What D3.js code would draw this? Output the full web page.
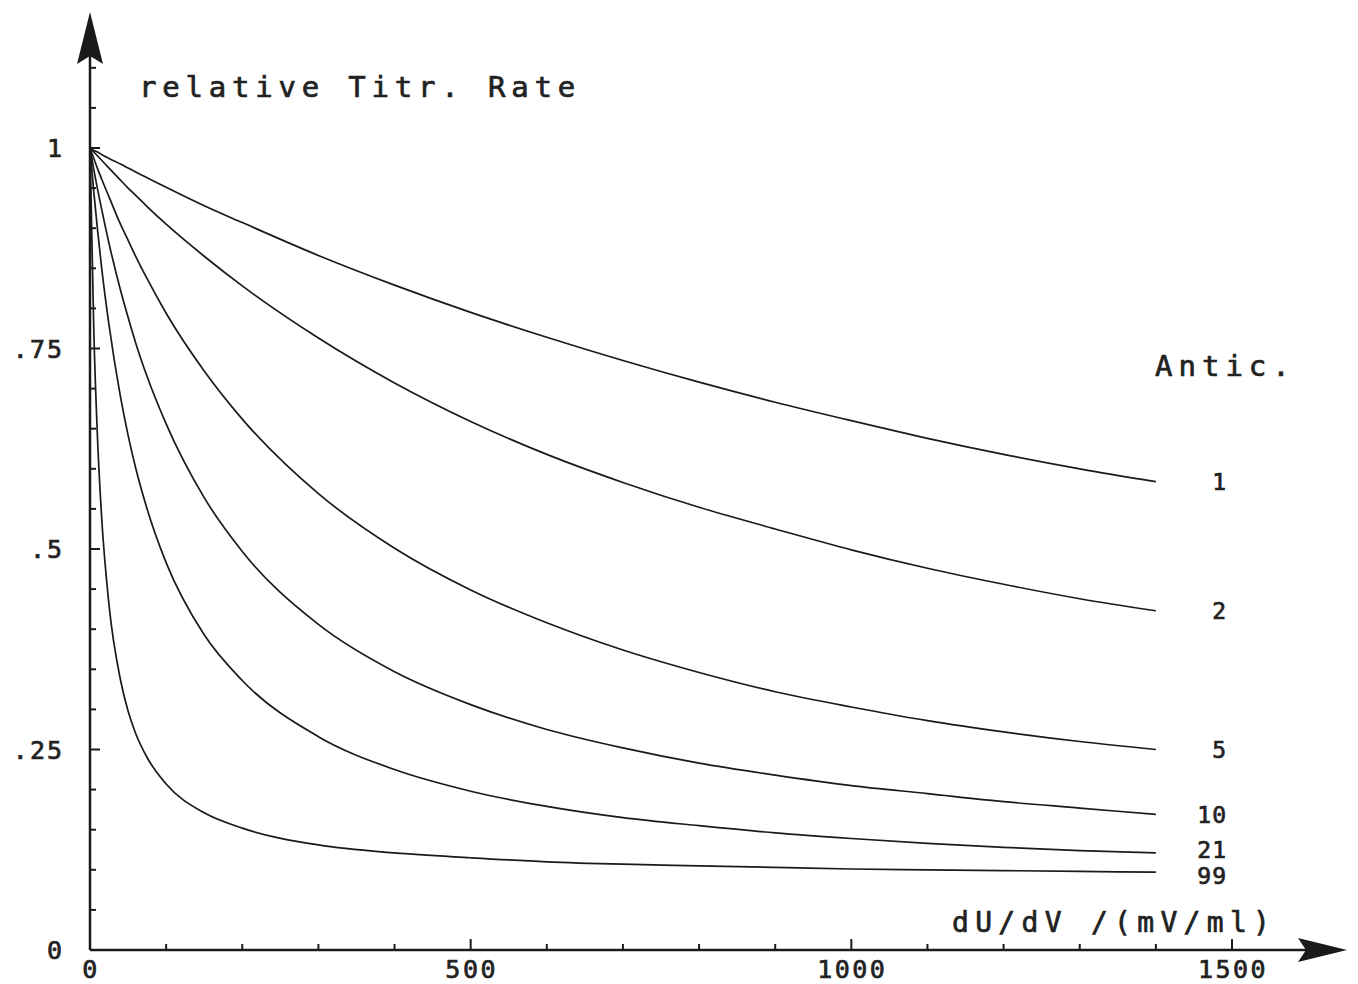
<!DOCTYPE html>
<html>
<head>
<meta charset="utf-8">
<script src="https://cdn.jsdelivr.net/npm/d3@7"></script>
<style>
  body { margin: 0; background: #fff; }
  text { font-family: "DejaVu Sans Mono", "Liberation Mono", monospace; fill: #222; stroke: #222; stroke-width: 0.7px; }
</style>
</head>
<body>
<div id="chart"></div>
<script>
// x positions (dU/dV in mV/ml) at which the curves were read
const xValues = [0, 5, 10, 15, 25, 40, 50, 60, 75, 100, 150, 200, 300, 400, 500, 600, 700, 800, 900, 1000, 1100, 1200, 1300, 1400];

// relative titration rate for each anticipation setting
const antic1  = [1, .997, .995, .992, .987, .980, .975, .970, .963, .951, .928, .907, .866, .829, .795, .764, .735, .708, .683, .660, .638, .618, .600, .584];
const antic2  = [1, .995, .990, .985, .975, .960, .950, .941, .927, .905, .865, .828, .763, .707, .659, .618, .583, .552, .525, .499, .476, .456, .438, .423];
const antic5  = [1, .987, .974, .962, .939, .905, .885, .865, .837, .794, .722, .662, .569, .501, .449, .408, .374, .346, .322, .303, .286, .272, .260, .250];
const antic10 = [1, .973, .948, .925, .881, .823, .789, .757, .715, .656, .564, .497, .406, .347, .306, .275, .252, .233, .218, .205, .195, .185, .177, .169];
const antic21 = [1, .945, .897, .853, .779, .690, .642, .601, .550, .483, .393, .336, .266, .225, .198, .179, .165, .155, .146, .139, .133, .128, .124, .121];
const antic99 = [1, .772, .635, .544, .430, .337, .298, .270, .240, .207, .171, .152, .131, .121, .115, .110, .107, .105, .103, .101, .100, .099, .098, .097];

const seriesNames = ["1", "2", "5", "10", "21", "99"];
const seriesValues = [antic1, antic2, antic5, antic10, antic21, antic99];

// axis ticks and labels
const xLabelValues = [0, 500, 1000, 1500];
const xLabelText = ["0", "500", "1000", "1500"];
const yLabelValues = [0, .25, .5, .75, 1];
const yLabelText = ["0", ".25", ".5", ".75", "1"];

const width = 1358, height = 984;

const svg = d3.select("#chart")
  .append("svg")
  .attr("width", width)
  .attr("height", height);

// scales
const x = d3.scaleLinear().domain([0, 1500]).range([90, 1232]);
const y = d3.scaleLinear().domain([0, 1]).range([950, 148]);

const ink = "#1a1a1a";

// axes lines
svg.append("line")
  .attr("x1", x(0)).attr("y1", y(0))
  .attr("x2", x(0)).attr("y2", 40)
  .attr("stroke", ink).attr("stroke-width", 2.5);
svg.append("line")
  .attr("x1", x(0)).attr("y1", y(0))
  .attr("x2", 1320).attr("y2", y(0))
  .attr("stroke", ink).attr("stroke-width", 2.5);

// arrow heads
svg.append("path")
  .attr("d", `M${x(0)},12 L${x(0) + 13},64 L${x(0)},56 L${x(0) - 13},64 Z`)
  .attr("fill", ink);
svg.append("path")
  .attr("d", `M1347,${y(0)} L1298,${y(0) - 12} L1306,${y(0)} L1298,${y(0) + 12} Z`)
  .attr("fill", ink);

// y ticks every .05, longer at quarters
const yTicks = d3.range(0, 21).map(i => i * 0.05).concat([1.05, 1.1]);
svg.append("g").selectAll("line")
  .data(yTicks)
  .enter()
  .append("line")
    .attr("x1", x(0))
    .attr("x2", d => x(0) + (Math.abs(d * 4 - Math.round(d * 4)) < 1e-6 ? 10 : 6))
    .attr("y1", d => y(d))
    .attr("y2", d => y(d))
    .attr("stroke", ink).attr("stroke-width", 2);

// x ticks every 100, longer at 500s
const xTicks = d3.range(1, 17).map(i => i * 100);
svg.append("g").selectAll("line")
  .data(xTicks)
  .enter()
  .append("line")
    .attr("x1", d => x(d))
    .attr("x2", d => x(d))
    .attr("y1", y(0))
    .attr("y2", d => y(0) - (d % 500 === 0 ? 11 : 6))
    .attr("stroke", ink).attr("stroke-width", 2);

// tick labels
svg.append("g").selectAll("text")
  .data(yLabelValues)
  .enter()
  .append("text")
    .attr("x", 64)
    .attr("y", d => y(d))
    .attr("dy", "0.36em")
    .attr("text-anchor", "end")
    .attr("font-size", 25)
    .attr("letter-spacing", 2)
    .text((d, i) => yLabelText[i]);

svg.append("g").selectAll("text")
  .data(xLabelValues)
  .enter()
  .append("text")
    .attr("x", d => x(d) + 1)
    .attr("y", 978)
    .attr("text-anchor", "middle")
    .attr("font-size", 25)
    .attr("letter-spacing", 2.5)
    .text((d, i) => xLabelText[i]);

// axis titles
svg.append("text")
  .attr("x", 139).attr("y", 97)
  .attr("font-size", 29)
  .attr("letter-spacing", 5.8)
  .text("relative Titr. Rate");

svg.append("text")
  .attr("x", 952).attr("y", 932)
  .attr("font-size", 28)
  .attr("letter-spacing", 6.3)
  .text("dU/dV /(mV/ml)");

svg.append("text")
  .attr("x", 1155).attr("y", 376)
  .attr("font-size", 29)
  .attr("letter-spacing", 6)
  .text("Antic.");

// curves
const line = d3.line()
  .x((d, i) => x(xValues[i]))
  .y(d => y(d))
  .curve(d3.curveMonotoneX);

svg.append("g").selectAll("path")
  .data(seriesValues)
  .enter()
  .append("path")
    .attr("d", d => line(d))
    .attr("fill", "none")
    .attr("stroke", ink)
    .attr("stroke-width", 1.7);

// curve labels at the right end (the two lowest are pushed apart a little)
const labelNudge = [0, 0, 0, 0, -3, 4];
svg.append("g").selectAll("text")
  .data(seriesValues)
  .enter()
  .append("text")
    .attr("x", 1227)
    .attr("y", (d, i) => y(d[d.length - 1]) + labelNudge[i])
    .attr("dy", "0.36em")
    .attr("text-anchor", "end")
    .attr("font-size", 23)
    .attr("letter-spacing", 1)
    .text((d, i) => seriesNames[i]);
</script>
</body>
</html>
